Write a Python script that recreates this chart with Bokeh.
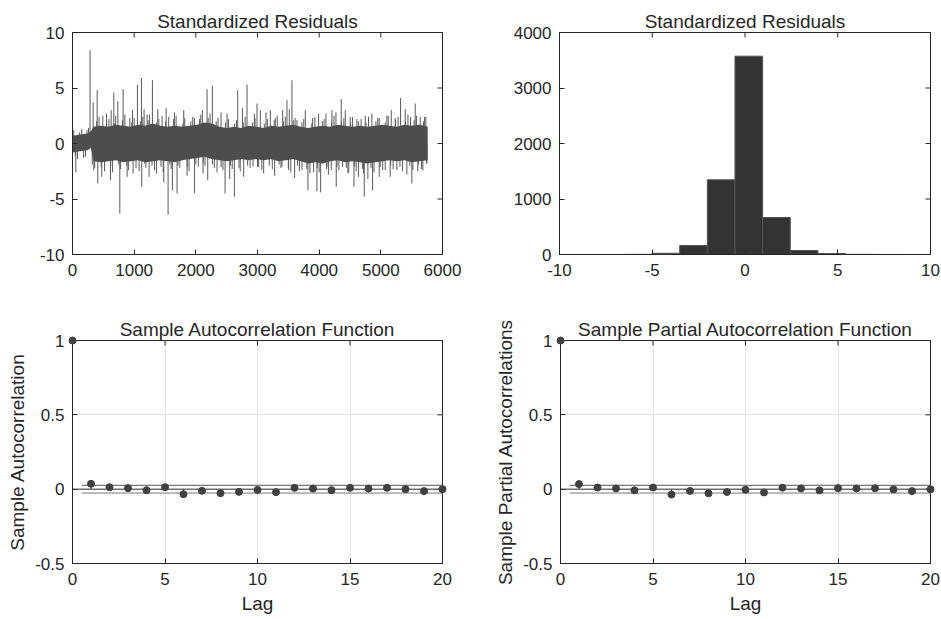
import math
from bokeh.plotting import figure
from bokeh.layouts import column, row
from bokeh.models import FixedTicker, Range1d, Span, BoxAnnotation
from bokeh.embed import file_html
from bokeh.resources import INLINE

# ---------------- data ----------------
# Standardized residuals: dense core band envelope
env_x = [0, 120, 240, 300, 340, 460, 580, 700, 820, 940,
         1060, 1180, 1300, 1420, 1540, 1660, 1780, 1900, 2020, 2140,
         2260, 2380, 2500, 2620, 2740, 2860, 2980, 3100, 3220, 3340,
         3460, 3580, 3700, 3820, 3940, 4060, 4180, 4300, 4420, 4540,
         4660, 4780, 4900, 5020, 5140, 5260, 5380, 5500, 5620, 5760]
core_hi = [0.7, 0.8, 0.9, 1.1, 1.5, 1.6, 1.5, 1.7, 1.6, 1.5,
           1.7, 1.6, 1.8, 1.6, 1.5, 1.6, 1.5, 1.6, 1.7, 1.9,
           1.8, 1.5, 1.4, 1.5, 1.4, 1.6, 1.5, 1.4, 1.6, 1.5,
           1.6, 1.7, 1.5, 1.4, 1.5, 1.6, 1.5, 1.7, 1.6, 1.5,
           1.6, 1.5, 1.6, 1.7, 1.6, 1.5, 1.7, 1.6, 1.7, 1.5]
core_lo = [-0.8, -0.7, -0.6, -0.4, -1.6, -1.7, -1.6, -1.5, -1.7, -1.6,
           -1.5, -1.7, -1.6, -1.5, -1.6, -1.7, -1.5, -1.4, -1.3, -1.2,
           -1.4, -1.5, -1.6, -1.5, -1.4, -1.5, -1.4, -1.5, -1.4, -1.6,
           -1.5, -1.4, -1.6, -1.8, -1.7, -1.8, -1.6, -1.5, -1.7, -1.6,
           -1.7, -1.8, -1.7, -1.6, -1.5, -1.6, -1.5, -1.7, -1.6, -1.5]

# Residual spikes reaching out of the band (upward)
up_x = [285, 335, 400, 492, 551, 627, 670, 735, 821, 929,
        972, 1053, 1118, 1161, 1210, 1296, 1383, 1453, 1518, 1653,
        1804, 1977, 2106, 2182, 2268, 2409, 2506, 2679, 2755, 2830,
        2949, 2992, 3046, 3138, 3208, 3289, 3408, 3478, 3516, 3559,
        3640, 3775, 3894, 3991, 4110, 4207, 4272, 4358, 4423, 4504,
        4612, 4747, 4855, 4974, 5098, 5169, 5233, 5320, 5395, 5482,
        5557, 5638, 5730]
up_y = [8.4, 3.7, 4.8, 2.5, 2.7, 3.0, 4.6, 3.8, 4.9, 2.3,
        3.0, 5.3, 5.9, 3.1, 2.6, 5.7, 3.1, 2.5, 3.2, 2.8,
        3.0, 2.3, 3.0, 4.9, 5.2, 2.8, 2.7, 4.8, 3.2, 5.3,
        2.7, 3.6, 3.0, 2.8, 3.0, 2.3, 3.0, 3.9, 3.1, 5.7,
        2.1, 3.0, 2.3, 2.7, 2.7, 3.0, 2.8, 4.0, 3.0, 2.4,
        2.2, 2.5, 2.7, 2.3, 2.5, 3.0, 2.3, 4.1, 3.1, 2.4,
        3.6, 2.4, 2.4]
# Residual spikes (downward)
dn_x = [54, 346, 410, 475, 616, 767, 886, 983, 1123, 1242,
        1361, 1480, 1550, 1620, 1696, 1858, 1977, 2117, 2193, 2344,
        2474, 2549, 2625, 2776, 2927, 3019, 3100, 3278, 3397, 3505,
        3602, 3721, 3818, 3910, 3964, 4024, 4126, 4196, 4277, 4380,
        4466, 4564, 4639, 4731, 4790, 4866, 4974, 5071, 5152, 5260,
        5422, 5503, 5600, 5682, 5747]
dn_y = [-2.6, -2.4, -3.6, -3.0, -3.3, -6.3, -3.0, -2.7, -3.9, -3.0,
        -2.7, -3.5, -6.4, -4.2, -4.5, -2.9, -4.5, -2.7, -3.3, -2.6,
        -4.5, -3.2, -4.8, -3.0, -2.1, -2.1, -2.7, -2.9, -2.1, -2.4,
        -3.1, -2.4, -4.2, -2.6, -4.3, -4.4, -2.1, -2.4, -3.9, -2.1,
        -2.7, -3.9, -3.0, -4.8, -3.2, -4.2, -3.0, -2.4, -3.0, -2.4,
        -2.8, -3.6, -2.5, -2.4, -1.8]
# Moderate swings forming the ragged edge of the band
mid_x = [20, 80, 150, 210, 260, 360, 430, 520, 590, 650,
         700, 780, 850, 910, 1000, 1080, 1140, 1190, 1250, 1330,
         1400, 1470, 1560, 1600, 1680, 1740, 1820, 1890, 1950, 2040,
         2080, 2150, 2230, 2300, 2360, 2440, 2530, 2590, 2660, 2720,
         2800, 2880, 2960, 3070, 3160, 3240, 3320, 3380, 3450, 3540,
         3610, 3680, 3750, 3850, 3930, 4000, 4080, 4150, 4240, 4320,
         4400, 4480, 4540, 4600, 4680, 4720, 4800, 4890, 4950, 5030,
         5120, 5200, 5280, 5350, 5440, 5520, 5580, 5660, 5710]
mid_y = [1.2, -1.4, 1.3, -1.2, 1.4, -2.2, 2.4, -2.5, 2.2, -2.6,
         2.5, -2.3, 2.6, -2.4, 2.3, -2.5, 2.4, -2.2, 2.6, -2.4,
         2.2, -2.6, 2.4, -2.3, 2.5, -2.2, 2.3, -2.5, 2.4, -2.1,
         2.6, -2.0, 2.7, -2.2, 2.3, -2.4, 2.2, -2.3, 2.1, -2.5,
         2.4, -2.2, 2.3, -2.4, 2.2, -2.3, 2.5, -2.2, 2.4, -2.6,
         2.3, -2.5, 2.2, -2.7, 2.4, -2.6, 2.2, -2.8, 2.5, -2.4,
         2.3, -2.6, 2.4, -2.5, 2.2, -2.7, 2.4, -2.6, 2.3, -2.4,
         2.5, -2.3, 2.4, -2.5, 2.6, -2.4, 2.5, -2.3, 2.4]
mid2_x = [45, 115, 180, 235, 320, 390, 465, 555, 620, 680,
          750, 810, 880, 960, 1030, 1100, 1170, 1225, 1290, 1360,
          1435, 1510, 1580, 1640, 1710, 1790, 1860, 1920, 2000, 2060,
          2120, 2200, 2270, 2330, 2410, 2480, 2560, 2630, 2700, 2770,
          2840, 2920, 3000, 3110, 3190, 3270, 3350, 3420, 3500, 3580,
          3650, 3720, 3800, 3880, 3970, 4050, 4120, 4200, 4290, 4360,
          4440, 4510, 4570, 4640, 4700, 4760, 4840, 4920, 4990, 5070,
          5160, 5240, 5310, 5400, 5470, 5540, 5610, 5690, 5740]
mid2_y = [-1.1, 1.0, -1.3, 1.2, -1.9, 2.0, -2.1, 1.9, -2.0, 1.8,
          -1.9, 2.1, -2.0, 1.9, -2.2, 2.0, -1.8, 2.1, -2.0, 1.9,
          -2.1, 2.0, -1.9, 2.2, -2.0, 1.8, -2.1, 2.0, -1.9, 2.2,
          -1.8, 2.3, -1.9, 2.0, -2.1, 1.9, -2.0, 1.8, -2.2, 1.9,
          -2.0, 1.9, -2.1, 1.8, -2.0, 2.1, -1.9, 2.0, -2.2, 2.1,
          -2.0, 1.9, -2.3, 1.8, -2.2, 2.0, -2.3, 1.9, -2.1, 2.0,
          -2.2, 1.9, -2.1, 2.0, -2.3, 1.9, -2.2, 2.0, -2.1, 1.9,
          -2.0, 2.1, -2.1, 2.0, -2.0, 2.1, -1.9, 2.0, -1.8]

# Histogram of standardized residuals
hist_edges = [-6.50, -5.01, -3.52, -2.03, -0.54, 0.95, 2.44, 3.93, 5.42, 6.91, 8.40]
hist_counts = [3, 22, 162, 1346, 3573, 667, 72, 18, 3, 1]

# ACF / PACF
lags = list(range(21))
acf_vals = [1.0, 0.036, 0.013, 0.007, -0.007, 0.013, -0.034, -0.011, -0.027, -0.018,
            -0.005, -0.020, 0.009, 0.004, -0.007, 0.009, 0.004, 0.009, 0.0, -0.013, 0.0]
pacf_vals = [1.0, 0.034, 0.011, 0.005, -0.008, 0.011, -0.036, -0.012, -0.028, -0.019,
             -0.004, -0.022, 0.010, 0.005, -0.008, 0.007, 0.005, 0.006, -0.002, -0.013, -0.001]
conf_bound = 0.026

ts_xticks = [0, 1000, 2000, 3000, 4000, 5000, 6000]
ts_yticks = [-10, -5, 0, 5, 10]
hist_xticks = [-10, -5, 0, 5, 10]
hist_yticks = [0, 1000, 2000, 3000, 4000]
cf_xticks = [0, 5, 10, 15, 20]
cf_yticks = [-0.5, 0, 0.5, 1]

# ---------------- styling ----------------
FONT = "Liberation Sans"
TXT = "#262626"
TICK_FS = "17px"
LABEL_FS = "19px"
TICK_LEN = 10  # dash marker length; half of it shows inside the frame


def style_axis(ax, ticks, standoff):
    ax.ticker = FixedTicker(ticks=ticks)
    ax.major_label_overrides = {t: "%g" % t for t in ticks}
    ax.major_tick_in = 5
    ax.major_tick_out = 0
    ax.minor_tick_line_color = None
    ax.axis_line_color = TXT
    ax.major_tick_line_color = TXT
    ax.major_label_text_font = FONT
    ax.major_label_text_color = TXT
    ax.major_label_text_font_size = TICK_FS
    ax.major_label_standoff = standoff
    ax.axis_label_text_font = FONT
    ax.axis_label_text_font_style = "normal"
    ax.axis_label_text_font_size = LABEL_FS
    ax.axis_label_text_color = TXT


def make_fig(width, height, bl, br, bt, bb, xr, yr, xt, yt, title,
             xlabel=None, ylabel=None, grid=False):
    p = figure(width=width, height=height, output_backend="svg",
               toolbar_location=None, x_range=Range1d(*xr), y_range=Range1d(*yr),
               min_border_left=bl, min_border_right=br, min_border_top=bt,
               min_border_bottom=bb)
    p.outline_line_color = TXT
    p.outline_line_width = 1
    p.outline_line_alpha = 1
    xa = p.xaxis[0]
    ya = p.yaxis[0]
    style_axis(xa, xt, 9)
    style_axis(ya, yt, 8)
    if xlabel:
        xa.axis_label = xlabel
        xa.axis_label_standoff = 5
    if ylabel:
        ya.axis_label = ylabel
        ya.axis_label_standoff = 4
    p.title.text = title
    p.title.text_font = FONT
    p.title.text_font_size = LABEL_FS
    p.title.text_font_style = "normal"
    p.title.text_color = TXT
    p.title.align = "center"
    p.title.standoff = 1
    if grid:
        p.xgrid.ticker = FixedTicker(ticks=xt)
        p.ygrid.ticker = FixedTicker(ticks=yt)
        p.xgrid.grid_line_color = "#e2e2e2"
        p.ygrid.grid_line_color = "#e2e2e2"
    else:
        p.xgrid.grid_line_color = None
        p.ygrid.grid_line_color = None
    return p


def box_ticks(p, xr, yr, xt, yt):
    # inward ticks on the top and right edges of the box
    p.scatter(x=xt, y=[yr[1]] * len(xt), marker="dash", angle=math.pi / 2,
              size=TICK_LEN, line_color=TXT, line_width=1)
    p.scatter(x=[xr[1]] * len(yt), y=yt, marker="dash", angle=0,
              size=TICK_LEN, line_color=TXT, line_width=1)


# ---------------- top-left: residual series ----------------
ts_xr, ts_yr = (0, 6000), (-10, 10)
p1 = make_fig(482, 300, 72, 40, 32, 46, ts_xr, ts_yr, ts_xticks, ts_yticks,
              "Standardized Residuals")
SPK = "#595959"
for sx, sy in ((mid2_x, mid2_y), (mid_x, mid_y), (up_x, up_y), (dn_x, dn_y)):
    p1.segment(x0=sx, y0=[0] * len(sx), x1=sx, y1=sy, line_color=SPK, line_width=1)
p1.varea(x=env_x, y1=core_lo, y2=core_hi, fill_color="#4d4d4d")
box_ticks(p1, ts_xr, ts_yr, ts_xticks, ts_yticks)

# ---------------- top-right: histogram ----------------
h_xr, h_yr = (-10, 10), (0, 4000)
p2 = make_fig(459, 300, 77, 11, 32, 46, h_xr, h_yr, hist_xticks, hist_yticks,
              "Standardized Residuals")
p2.quad(left=hist_edges[:-1], right=hist_edges[1:], bottom=0, top=hist_counts,
        fill_color="#333333", line_color="#555555", line_width=1)
box_ticks(p2, h_xr, h_yr, hist_xticks, hist_yticks)


# ---------------- bottom: ACF / PACF ----------------
def cf_plot(width, bl, br, vals, title, ylabel):
    xr, yr = (0, 20), (-0.5, 1)
    p = make_fig(width, 319, bl, br, 40, 56, xr, yr, cf_xticks, cf_yticks,
                 title, xlabel="Lag", ylabel=ylabel, grid=True)
    p.add_layout(Span(location=0, dimension="width", line_color="#333333", line_width=1))
    p.line(x=[0.5, lags[-1]], y=[conf_bound, conf_bound], line_color="#555555", line_width=1)
    p.line(x=[0.5, lags[-1]], y=[-conf_bound, -conf_bound], line_color="#777777", line_width=1)
    p.segment(x0=lags, y0=[0] * len(lags), x1=lags, y1=vals, line_color="#404040", line_width=1)
    r = p.scatter(x=lags, y=vals, size=7, fill_color="#404040", line_color="#404040")
    r.level = "overlay"
    # the lag-0 marker sits on the frame corner
    fw = width - bl - br
    dx = 3.5 * (xr[1] - xr[0]) / fw
    dy = 3.5 * (yr[1] - yr[0]) / 223
    p.add_layout(BoxAnnotation(left=lags[0] - dx, right=lags[0] + dx,
                               bottom=vals[0] - dy, top=vals[0] + dy,
                               border_radius=4, fill_color="#404040", fill_alpha=1,
                               line_color="#404040", line_alpha=1, level="overlay"))
    box_ticks(p, xr, yr, cf_xticks, cf_yticks)
    return p


p3 = cf_plot(482, 72, 40, acf_vals, "Sample Autocorrelation Function", "Sample Autocorrelation")
p4 = cf_plot(459, 78, 11, pacf_vals, "Sample Partial Autocorrelation Function",
             "Sample Partial Autocorrelations")

layout = column(row(p1, p2), row(p3, p4))
open("out.html", "w").write(file_html(layout, INLINE))
